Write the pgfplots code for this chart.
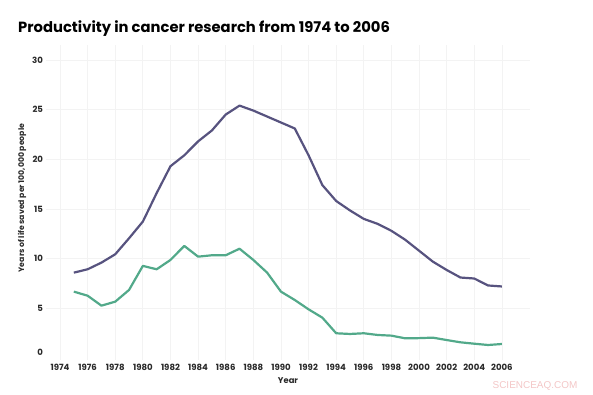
\documentclass[border=0pt]{standalone}
\usepackage{pgfplots}
\pgfplotsset{compat=1.18}
\usepackage{fontspec}
\setmainfont{Poppins}
\newfontfamily\wmfont{Liberation Sans}
\definecolor{purp}{HTML}{57537F}
\definecolor{teal}{HTML}{52A98A}
\definecolor{gridc}{HTML}{F3F3F3}
\definecolor{txt}{HTML}{2A2A2A}
\definecolor{wm}{HTML}{F3C6C6}
\begin{document}
\begin{tikzpicture}
\path[use as bounding box] (0,0) rectangle (593bp,395bp);
\begin{axis}[
  at={(46.2bp,35bp)}, anchor=south west,
  scale only axis, width=483.3bp, height=315bp,
  xmin=1973, xmax=2008, ymin=-0.2, ymax=31.5,
  axis line style={draw=none},
  xtick={1974,1976,...,2006}, ytick={5,10,...,30},
  extra y ticks={0.6}, extra y tick labels={0},
  extra y tick style={grid=none},
  major tick length=0pt,
  grid=major, major grid style={gridc, line width=0.8bp},
  xticklabel style={anchor=center, yshift=-7bp, font=\fontsize{8.6}{9}\selectfont\bfseries, text=txt, inner sep=0pt},
  yticklabel style={anchor=east, xshift=-3bp, font=\fontsize{8.6}{9}\selectfont\bfseries, text=txt, inner sep=0pt},
  /pgf/number format/assume math mode=true,
  /pgf/number format/1000 sep={},
  clip=false,
]
\addplot[purp, line width=2.2bp, line join=round] coordinates {
(1975,8.59)(1976,8.93)(1977,9.6)(1978,10.44)(1979,12.05)(1980,13.73)(1981,16.6)(1982,19.3)(1983,20.4)(1984,21.8)(1985,22.9)(1986,24.5)(1987,25.4)(1988,24.9)(1989,24.3)(1990,23.7)(1991,23.1)(1992,20.4)(1993,17.4)(1994,15.8)(1995,14.85)(1996,14.0)(1997,13.5)(1998,12.8)(1999,11.9)(2000,10.8)(2001,9.7)(2002,8.86)(2003,8.1)(2004,8.0)(2005,7.3)(2006,7.2)
};
\addplot[teal, line width=2.2bp, line join=round] coordinates {
(1975,6.68)(1976,6.27)(1977,5.27)(1978,5.67)(1979,6.85)(1980,9.27)(1981,8.93)(1982,9.87)(1983,11.28)(1984,10.2)(1985,10.34)(1986,10.34)(1987,11.0)(1988,9.87)(1989,8.59)(1990,6.68)(1991,5.84)(1992,4.9)(1993,4.06)(1994,2.49)(1995,2.42)(1996,2.49)(1997,2.32)(1998,2.25)(1999,1.98)(2000,2.0)(2001,2.05)(2002,1.81)(2003,1.58)(2004,1.44)(2005,1.31)(2006,1.41)
};
\end{axis}
\node[anchor=base west, inner sep=0pt, text=black] at (18bp,362bp) {\fontsize{14.8}{16}\selectfont\bfseries Productivity in cancer research from 1974 to 2006};
\node[rotate=90, inner sep=0pt, text=txt] at (22bp,197bp) {\fontsize{7.8}{9}\selectfont\bfseries Years of life saved per 100,000 people};
\node[inner sep=0pt, text=txt] at (288bp,14.5bp) {\fontsize{8.4}{9}\selectfont\bfseries Year};
\node[inner sep=0pt, text=wm] at (535bp,9bp) {\wmfont\fontsize{10}{11}\selectfont SCIENCEAQ.COM};
\end{tikzpicture}
\end{document}
